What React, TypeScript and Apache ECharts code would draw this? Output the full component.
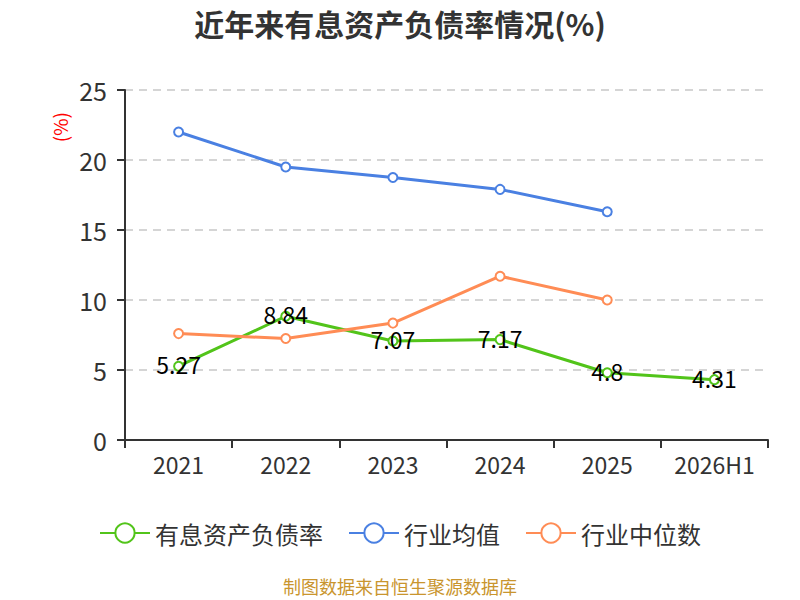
import React, { useEffect, useRef } from "react";
import * as echarts from "echarts";

const categories = ["2021", "2022", "2023", "2024", "2025", "2026H1"];
const debtRatio = [5.27, 8.84, 7.07, 7.17, 4.8, 4.31];
const industryAvg = [22.0, 19.5, 18.75, 17.9, 16.3, null];
const industryMedian = [7.6, 7.25, 8.35, 11.7, 10.0, null];
const seriesNames = ["有息资产负债率", "行业均值", "行业中位数"];
const colors = ["#52c41a", "#4a80e2", "#ff8c55"];

const FONT = "'Noto Sans CJK SC', 'Noto Sans', sans-serif";

export default function App() {
  const ref = useRef<HTMLDivElement>(null);
  useEffect(() => {
    document.body.style.margin = "0";
    if (!ref.current) return;
    const chart = echarts.init(ref.current, undefined, { renderer: "svg" });
    const mk = (name: string, data: any[], color: string, label: boolean) => ({
      name,
      type: "line",
      data,
      symbol: "emptyCircle",
      symbolSize: 9,
      lineStyle: { width: 3, color },
      itemStyle: { color, borderWidth: 1.5 },
      label: label
        ? {
            show: true,
            position: "inside",
            offset: [0, -2],
            color: "#000",
            fontSize: 23,
            fontFamily: FONT,
          }
        : { show: false },
    });
    chart.setOption({
      animation: false,
      textStyle: { fontFamily: FONT },
      title: {
        text: "近年来有息资产负债率情况(%)",
        left: "center",
        top: 3,
        textStyle: { fontSize: 30, fontWeight: "bold", color: "#333", fontFamily: FONT },
      },
      color: colors,
      grid: { left: 125, right: 32, top: 90, bottom: 160, containLabel: false },
      legend: {
        bottom: 50,
        left: "center",
        itemWidth: 50,
        itemHeight: 24,
        itemGap: 25,
        textStyle: { fontSize: 24, color: "#333", fontFamily: FONT },
        data: seriesNames,
      },
      xAxis: {
        type: "category",
        data: categories,
        boundaryGap: true,
        axisLine: { lineStyle: { color: "#333", width: 2 } },
        axisTick: { show: true, length: 8, lineStyle: { color: "#333", width: 2 } },
        axisLabel: { fontSize: 23, color: "#333", margin: 12, interval: 0, fontFamily: FONT },
      },
      yAxis: {
        type: "value",
        min: 0,
        max: 25,
        interval: 5,
        name: "(%)",
        nameLocation: "end",
        nameRotate: 90,
        nameGap: -22,
        nameTextStyle: { color: "#ff0000", fontSize: 19, align: "right", verticalAlign: "bottom", padding: [0, 0, 56, 0] },
        axisLine: { show: true, lineStyle: { color: "#333", width: 2 } },
        axisTick: { show: true, length: 8, lineStyle: { color: "#333", width: 2 } },
        axisLabel: { fontSize: 25, color: "#333", margin: 18, fontFamily: FONT },
        splitLine: { lineStyle: { type: [8, 6], color: "#c8c8c8", width: 1.5 } },
      },
      graphic: [
        {
          type: "text",
          left: "center",
          top: 577,
          style: {
            text: "制图数据来自恒生聚源数据库",
            fill: "#c9952e",
            fontSize: 18,
            fontFamily: FONT,
          },
        },
      ],
      series: [
        mk(seriesNames[0], debtRatio, colors[0], true),
        mk(seriesNames[1], industryAvg, colors[1], false),
        mk(seriesNames[2], industryMedian, colors[2], false),
      ],
    });
    return () => chart.dispose();
  }, []);
  return <div ref={ref} style={{ width: 800, height: 600 }} />;
}
